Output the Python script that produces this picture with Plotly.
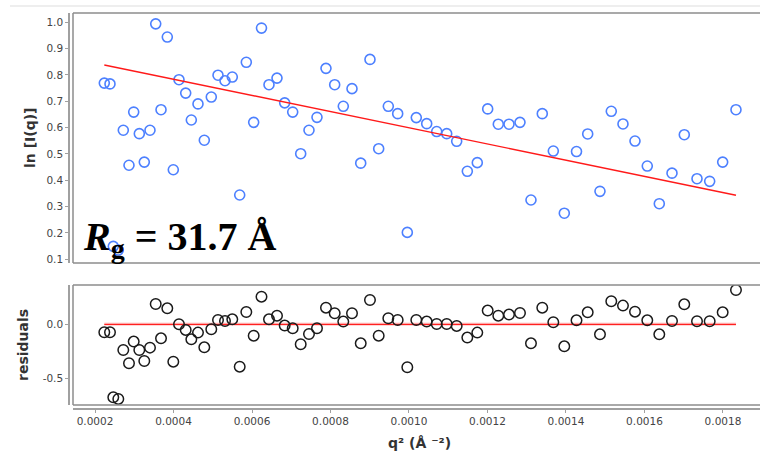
import plotly.graph_objects as go

# ---- data ----
q2 = [0.0002237, 0.0002382, 0.0002466, 0.0002594, 0.0002721, 0.0002866, 0.0002986, 0.0003129,
      0.0003256, 0.0003401, 0.0003547, 0.0003682, 0.0003842, 0.0003995, 0.0004140, 0.0004311,
      0.0004454, 0.0004624, 0.0004785, 0.0004963, 0.0005134, 0.0005312, 0.0005498, 0.0005687,
      0.0005855, 0.0006043, 0.0006242, 0.0006433, 0.0006637, 0.0006833, 0.0007037, 0.0007241,
      0.0007452, 0.0007656, 0.0007885, 0.0008107, 0.0008326, 0.0008548, 0.0008770, 0.0009006,
      0.0009228, 0.0009473, 0.0009712, 0.0009957, 0.0010186, 0.0010451, 0.0010706, 0.0010961,
      0.0011215, 0.0011486, 0.0011740, 0.0012005, 0.0012275, 0.0012548, 0.0012828, 0.0013108,
      0.0013396, 0.0013677, 0.0013957, 0.0014268, 0.0014553, 0.0014866, 0.0015154, 0.0015452,
      0.0015758, 0.0016071, 0.0016377, 0.0016701, 0.0017014, 0.0017338, 0.0017661, 0.0017992,
      0.0018331]

ln_I = [0.769, 0.766, 0.149, 0.135, 0.590, 0.457, 0.659, 0.577, 0.469, 0.590,
        0.994, 0.668, 0.944, 0.440, 0.782, 0.731, 0.629, 0.690, 0.552, 0.716,
        0.799, 0.778, 0.792, 0.344, 0.848, 0.620, 0.978, 0.763, 0.788, 0.694,
        0.659, 0.501, 0.590, 0.639, 0.825, 0.763, 0.681, 0.748, 0.465, 0.859,
        0.520, 0.681, 0.653, 0.202, 0.638, 0.615, 0.585, 0.577, 0.548, 0.434,
        0.467, 0.671, 0.613, 0.613, 0.620, 0.325, 0.653, 0.511, 0.275, 0.509,
        0.576, 0.358, 0.662, 0.614, 0.549, 0.454, 0.311, 0.427, 0.573, 0.406,
        0.396, 0.469, 0.668]

residuals = [-0.074, -0.074, -0.676, -0.691, -0.238, -0.361, -0.160, -0.238, -0.340, -0.216,
             0.188, -0.130, 0.148, -0.346, 0.000, -0.052, -0.139, -0.077, -0.213, -0.046,
             0.040, 0.031, 0.046, -0.392, 0.114, -0.105, 0.256, 0.046, 0.080, -0.012,
             -0.037, -0.185, -0.090, -0.037, 0.154, 0.102, 0.025, 0.102, -0.176, 0.225,
             -0.105, 0.056, 0.040, -0.398, 0.040, 0.025, 0.003, 0.003, -0.015, -0.123,
             -0.077, 0.127, 0.080, 0.090, 0.105, -0.176, 0.154, 0.019, -0.204, 0.037,
             0.111, -0.093, 0.213, 0.173, 0.117, 0.037, -0.093, 0.031, 0.185, 0.028,
             0.028, 0.111, 0.318]

fit_q2 = [0.0002237, 0.0018331]
fit_ln = [0.838, 0.343]
zero_q2 = [0.0002237, 0.0018331]
zero_res = [0.0, 0.0]

top_ticks = [0.1, 0.2, 0.3, 0.4, 0.5, 0.6, 0.7, 0.8, 0.9, 1.0]
top_ticktext = ["0.1", "0.2", "0.3", "0.4", "0.5", "0.6", "0.7", "0.8", "0.9", "1.0"]
res_ticks = [-0.5, 0.0]
res_ticktext = ["-0.5", "0.0"]
x_ticks = [0.0002, 0.0004, 0.0006, 0.0008, 0.0010, 0.0012, 0.0014, 0.0016, 0.0018]
x_ticktext = ["0.0002", "0.0004", "0.0006", "0.0008", "0.0010", "0.0012", "0.0014", "0.0016", "0.0018"]

# ---- layout geometry ----
W, H = 760, 456
ML, MR, MT, MB = 69, 0, 13, 47
PW, PH = W - ML - MR, H - MT - MB
def px_x(p):
    return (p - ML) / PW
def px_y(p):
    return (H - MB - p) / PH

x_dom = [px_x(73), 1.0]
top_dom = [px_y(263), px_y(13)]
bot_dom = [px_y(405), px_y(285)]
x_range = [0.00014395, 0.0018943]
top_range = [0.0858, 1.0353]
bot_range = [-0.7472, 0.3639]

tick_font = dict(family="DejaVu Sans", size=10.5, color="#444444")
title_font = dict(family="DejaVu Sans", size=14, color="#333333")

fig = go.Figure()

fig.add_trace(go.Scatter(
    x=q2, y=ln_I, mode="markers", xaxis="x", yaxis="y",
    marker=dict(symbol="circle-open", size=10, color="#4d80ff", line=dict(width=1.6, color="#4d80ff")),
    hoverinfo="x+y", showlegend=False))
fig.add_trace(go.Scatter(
    x=fit_q2, y=fit_ln, mode="lines", xaxis="x", yaxis="y",
    line=dict(color="#ff1a1a", width=1.4), showlegend=False))

fig.add_trace(go.Scatter(
    x=zero_q2, y=zero_res, mode="lines", xaxis="x2", yaxis="y2",
    line=dict(color="rgba(255,90,90,0.25)", width=3.5), showlegend=False))
fig.add_trace(go.Scatter(
    x=zero_q2, y=zero_res, mode="lines", xaxis="x2", yaxis="y2",
    line=dict(color="#ff2020", width=1.2), showlegend=False))
fig.add_trace(go.Scatter(
    x=q2, y=residuals, mode="markers", xaxis="x2", yaxis="y2",
    marker=dict(symbol="circle-open", size=10.5, color="#1a1a1a", line=dict(width=1.5, color="#1a1a1a")),
    showlegend=False))

axis_common = dict(showgrid=False, zeroline=False, linecolor="#a0a0a0", linewidth=1.5,
                   tickcolor="#a0a0a0", ticklen=3, tickwidth=1, tickfont=tick_font)

fig.update_layout(
    width=W, height=H,
    margin=dict(l=ML, r=MR, t=MT, b=MB),
    paper_bgcolor="white", plot_bgcolor="white",
    showlegend=False,
    xaxis=dict(domain=x_dom, range=x_range, anchor="y", showticklabels=False, ticks="",
               showline=False, showgrid=False, zeroline=False),
    yaxis=dict(domain=top_dom, range=top_range, anchor="free", position=0,
               tickmode="array", tickvals=top_ticks, ticktext=top_ticktext,
               ticks="outside", showline=True, **axis_common),
    xaxis2=dict(domain=x_dom, range=x_range, anchor="free", position=0,
                tickmode="array", tickvals=x_ticks, ticktext=x_ticktext,
                ticks="outside", showline=True, **axis_common),
    yaxis2=dict(domain=bot_dom, range=bot_range, anchor="free", position=0,
                tickmode="array", tickvals=res_ticks, ticktext=res_ticktext,
                ticks="outside", showline=True, **axis_common),
)

box_col = "#8c8c8c"
shapes = []
for dom in (top_dom, bot_dom):
    shapes.append(dict(type="line", xref="paper", yref="paper", x0=x_dom[0], x1=1.05, y0=dom[1], y1=dom[1],
                       line=dict(color=box_col, width=1.5)))
    shapes.append(dict(type="line", xref="paper", yref="paper", x0=x_dom[0], x1=1.05, y0=dom[0], y1=dom[0],
                       line=dict(color=box_col, width=1.5)))
    shapes.append(dict(type="line", xref="paper", yref="paper", x0=x_dom[0], x1=x_dom[0], y0=dom[0], y1=dom[1],
                       line=dict(color=box_col, width=1.5)))
# faint separator at the very top
shapes.append(dict(type="line", xref="paper", yref="paper", x0=px_x(10), x1=1.05, y0=px_y(6), y1=px_y(6),
                   line=dict(color="#dddddd", width=1)))
fig.update_layout(shapes=shapes)

annotations = [
    dict(text="<b>ln [I(q)]</b>", xref="paper", yref="paper", x=px_x(30), y=(top_dom[0] + top_dom[1]) / 2,
         textangle=-90, showarrow=False, font=title_font, xanchor="center", yanchor="middle"),
    dict(text="<b>residuals</b>", xref="paper", yref="paper", x=px_x(23), y=(bot_dom[0] + bot_dom[1]) / 2,
         textangle=-90, showarrow=False, font=title_font, xanchor="center", yanchor="middle"),
    dict(text="<b>q² (Å ⁻²)</b>", xref="paper", yref="paper", x=px_x(419), y=px_y(443),
         showarrow=False, font=title_font, xanchor="center", yanchor="middle"),
    dict(text="<b><i>R</i><sub>g</sub> = 31.7 Å</b>", xref="paper", yref="paper", x=px_x(81), y=px_y(239),
         showarrow=False, font=dict(family="Liberation Serif", size=40, color="black"),
         xanchor="left", yanchor="middle"),
]
fig.update_layout(annotations=annotations)

fig.write_html("out.html")
